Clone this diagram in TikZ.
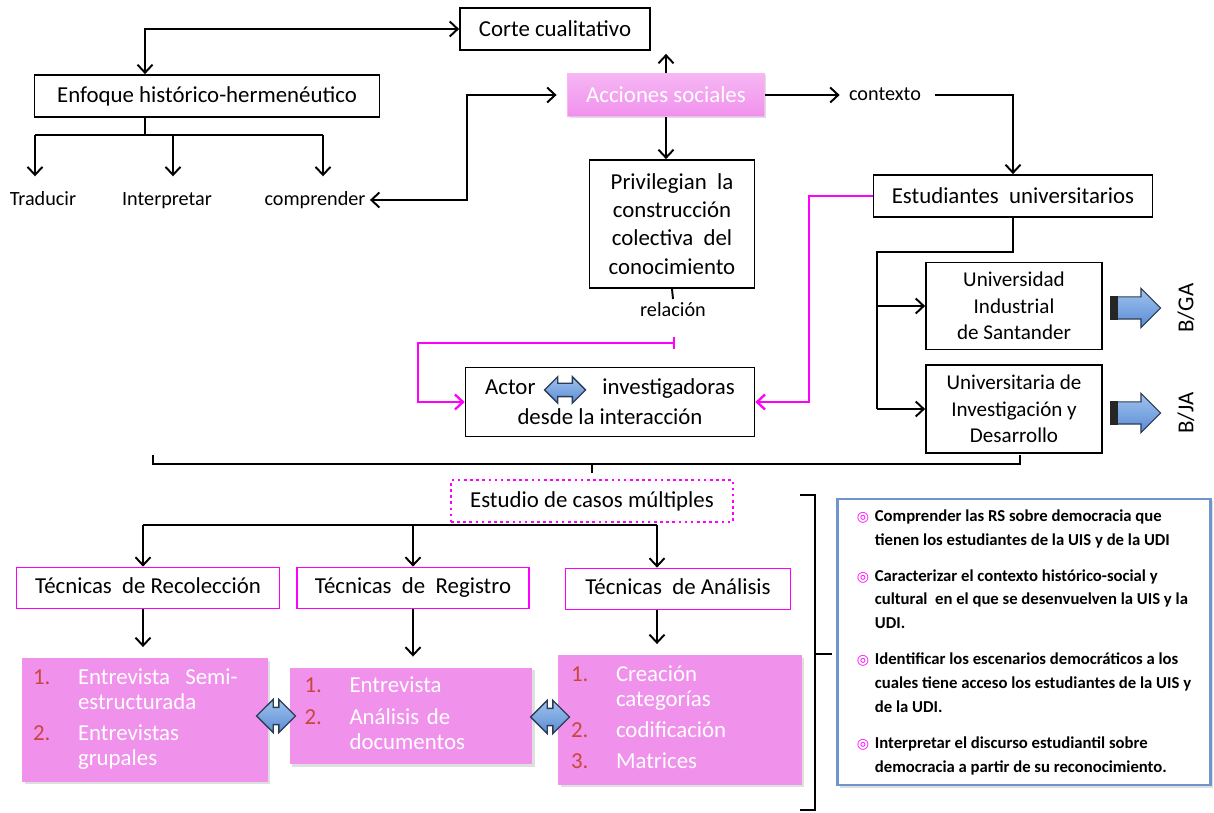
\documentclass[tikz,border=0pt]{standalone}
\usepackage{fontspec}
\setmainfont{Carlito}
\newfontfamily\symfont{DejaVu Sans}
\usepackage{array}
\usetikzlibrary{arrows.meta,shapes.arrows,shadows}
\definecolor{mag}{RGB}{255,0,255}
\definecolor{pinkbox}{RGB}{240,145,236}
\definecolor{pinklight}{RGB}{246,182,244}
\definecolor{numred}{RGB}{200,70,60}
\definecolor{arrblue}{RGB}{90,140,212}
\definecolor{arrlight}{RGB}{160,195,238}
\definecolor{arrdark}{RGB}{45,60,85}
\definecolor{objblue}{RGB}{110,150,205}
\newcommand{\numit}[1]{\textcolor{numred}{#1}}
\newcommand{\obul}{\textcolor{mag}{\symfont\fontsize{8}{8}\selectfont ◎}}
\tikzset{
	>={Straight Barb[length=1.6mm,width=3mm]},
	box/.style={draw, line width=1pt, fill=white, font=\fontsize{13}{16}\selectfont, inner sep=2pt},
	tecbox/.style={box, draw=mag, minimum height=0.82cm, text height=1.7ex, text depth=0.5ex},
	lab/.style={font=\fontsize{11.5}{14}\selectfont, inner sep=2pt, text height=1.7ex, text depth=0.5ex},
	magline/.style={draw=mag, line width=1.3pt},
	accbox/.style={top color=pinklight, bottom color=pinkbox, draw=pinklight, text=white,
		font=\fontsize{13}{16}\selectfont, minimum width=3.94cm, minimum height=0.86cm,
		drop shadow={opacity=0.25, shadow xshift=0.04cm, shadow yshift=-0.04cm}},
	listbox/.style={fill=pinkbox, text=white, font=\fontsize{13}{14.2}\selectfont, align=left,
		inner ysep=2pt, drop shadow={opacity=0.25, shadow xshift=0.05cm, shadow yshift=-0.05cm}},
	dblarr/.style={double arrow, draw=arrdark, line width=0.8pt, top color=arrlight, bottom color=arrblue},
	blockarr/.style={single arrow, draw=arrdark, line width=0.6pt, top color=arrlight, bottom color=arrblue,
		inner sep=0.21cm, single arrow head extend=0.17cm, minimum height=1cm},
}
\begin{document}
\begin{tikzpicture}[x=0.02cm, y=-0.02cm, line width=1.1pt]
	\useasboundingbox (0,0) rectangle (1214,813);
	% upper part
	\node[box, minimum width=3.8cm, minimum height=0.84cm] (corte) at (555,29) {Corte cualitativo};
	\node[box, minimum width=6.9cm, minimum height=0.84cm] (enfoque) at (207,96) {Enfoque histórico-hermenéutico};
	\node[accbox] (acciones) at (666,95) {Acciones sociales};
	\node[lab] (contexto) at (885,95) {contexto};
	\node[lab] (traducir) at (43,200) {Traducir};
	\node[lab] (interpretar) at (167,200) {Interpretar};
	\node[lab] (comprender) at (315,200) {comprender};
	\node[box, minimum width=3.3cm, minimum height=2.56cm, align=center, font=\fontsize{13}{16}\selectfont]
		(privilegian) at (672,224) {Privilegian\ \ la\\construcción\\colectiva\ \ del\\conocimiento};
	\node[lab, inner sep=1pt] (relacion) at (673,311) {relación};
	\node[box, minimum width=5.58cm, minimum height=0.84cm] (estudiantes) at (1013,196) {Estudiantes\ \ universitarios};
	\node[box, minimum width=3.52cm, minimum height=1.74cm, align=center, font=\fontsize{12}{15}\selectfont]
		(uis) at (1014,306) {Universidad\\Industrial\\de Santander};
	\node[box, minimum width=3.52cm, minimum height=1.76cm, align=center, font=\fontsize{12}{15}\selectfont]
		(udi) at (1014,409) {Universitaria de\\Investigación y\\Desarrollo};
	\node[blockarr] (flechaA) at (1130,308) {};
	\node[blockarr] (flechaB) at (1130,413) {};
	\fill[black!85] (flechaA.after tail) rectangle ([xshift=0.16cm]flechaA.before tail);
	\fill[black!85] (flechaB.after tail) rectangle ([xshift=0.16cm]flechaB.before tail);
	\node[font=\fontsize{13}{16}\selectfont, rotate=90] (bga) at (1186,308) {B/GA};
	\node[font=\fontsize{13}{16}\selectfont, rotate=90] (bja) at (1186,413) {B/JA};
	\node[box, minimum width=5.78cm, minimum height=1.38cm, align=center, font=\fontsize{13}{17}\selectfont]
		(actor) at (610,402) {Actor\hspace*{1.34cm}investigadoras\\desde la interacción};
	\node[dblarr, inner sep=0.12cm, double arrow head extend=0.13cm, minimum height=0.82cm] (actarr) at (565,390) {};

	% connectors of the upper part
	\draw[<->] (corte.west) -| ([xshift=-1.24cm]enfoque.north);
	\coordinate (ebr) at (145,135);
	\draw ([xshift=-1.24cm]enfoque.south) -- (ebr);
	\draw (35,135) -- (323,135);
	\foreach \n/\x in {traducir/35, interpretar/173, comprender/323}
		\draw[->, shorten >=0.2cm] (\x,135) -- (\x,0 |- \n.north);
	\coordinate (ck) at (467,95);
	\draw[<->, shorten >=0.2cm] (comprender.east) -| (ck) -- (acciones.west);
	\draw[->, shorten >=0.06cm] (acciones.north) -- (acciones.north |- corte.south);
	\draw[->] (acciones.south) -- (acciones.south |- privilegian.north);
	\draw[->, shorten >=0.1cm] (acciones.east) -- (contexto.west);
	\draw[->, shorten <=0.2cm] (contexto.east) -| (estudiantes.north);
	\coordinate (ubr) at (877,252);
	\draw (estudiantes.south) |- (ubr) -- (ubr |- udi.west);
	\draw[->] (ubr |- uis.west) -- (uis.west);
	\draw[->] (ubr |- udi.west) -- (udi.west);
	\draw (privilegian.south) -- (relacion.north);
	% magenta links to the actor
	\coordinate (relpt) at (675,343);
	\coordinate (lk) at (418,370);
	\draw[magline, arrows={Bar[width=2.5mm]-Straight Barb[length=1.6mm,width=3mm]}] (relpt) -| (lk) |- (actor.west);
	\coordinate (mk) at (809,300);
	\draw[magline, ->] (estudiantes.west) -| (mk) |- (actor.east);

	% lower part
	\node[box, draw=mag, dash pattern=on 1.5pt off 2pt, minimum width=5.64cm, minimum height=0.84cm]
		(estudio) at (592,501) {Estudio de casos múltiples};
	\draw (153,455) |- (1020,464) -- (1020,455);
	\draw (estudio.north |- 0,464) -- ([yshift=0.12cm]estudio.north);
	\node[tecbox, minimum width=5.26cm] (recol) at (148,588) {Técnicas\ \ de Recolección};
	\node[tecbox, minimum width=4.64cm] (registro) at (413,588) {Técnicas\ \ de\ \ Registro};
	\node[tecbox, minimum width=4.5cm] (analisis) at (678,589) {Técnicas\ \ de Análisis};
	\node[listbox, inner xsep=0.22cm, text width=4.48cm, minimum height=2.48cm] (lista) at (145,720)
		{\begin{tabular}{@{}p{0.9cm}@{}l@{}}
		\numit{1.} & Entrevista\ \ Semi-\\ & estructurada\\[3.5pt]
		\numit{2.} & Entrevistas\\ & grupales
		\end{tabular}};
	\node[listbox, inner xsep=0.3cm, text width=4.26cm, minimum height=1.94cm] (listb) at (411,716)
		{\begin{tabular}{@{}p{0.9cm}@{}l@{}}
		\numit{1.} & Entrevista\\[3.5pt]
		\numit{2.} & Análisis de\\ & documentos
		\end{tabular}};
	\node[listbox, inner xsep=0.26cm, text width=4.36cm, minimum height=2.6cm] (listc) at (680,720)
		{\begin{tabular}{@{}p{0.9cm}@{}l@{}}
		\numit{1.} & Creación\\ & categorías\\[3.5pt]
		\numit{2.} & codificación\\[3.5pt]
		\numit{3.} & Matrices
		\end{tabular}};
	\node[dblarr, inner sep=0.16cm, double arrow head extend=0.16cm, minimum height=0.78cm] (dab) at (276,716) {};
	\node[dblarr, inner sep=0.16cm, double arrow head extend=0.16cm, minimum height=0.78cm] (dbc) at (550,717) {};
	% connectors of the lower part
	\draw (143,525) -- (657,525);
	\foreach \n/\l/\x in {recol/lista/143, registro/listb/413, analisis/listc/657}{
		\draw[->] (\x,525) -- (\x,0 |- \n.north);
		\draw[->, shorten >=0.2cm] (\x,0 |- \n.south) -- (\x,0 |- \l.north);
	}
	% objectives
	\draw (800,495) -| (815,810) -- (800,810);
	\draw (815,654) -- (832,654);
	\node[draw=objblue, line width=1.2pt, fill=white, minimum width=7.46cm, minimum height=5.62cm,
		font=\fontsize{9.5}{13.6}\selectfont\bfseries, drop shadow={opacity=0.25, shadow xshift=0.05cm, shadow yshift=-0.05cm}]
		(objetivos) at (1024,642)
		{\begin{tabular}{@{}p{0.36cm}@{}l@{}}
		\obul & Comprender las RS sobre democracia que\\
		 & tienen los estudiantes de la UIS y de la UDI\\[6.8pt]
		\obul & Caracterizar el contexto histórico-social y\\
		 & cultural\ \ en el que se desenvuelven la UIS y la\\
		 & UDI.\\[6.8pt]
		\obul & Identificar los escenarios democráticos a los\\
		 & cuales tiene acceso los estudiantes de la UIS y\\
		 & de la UDI.\\[6.8pt]
		\obul & Interpretar el discurso estudiantil sobre\\
		 & democracia a partir de su reconocimiento.
		\end{tabular}};
\end{tikzpicture}
\end{document}
